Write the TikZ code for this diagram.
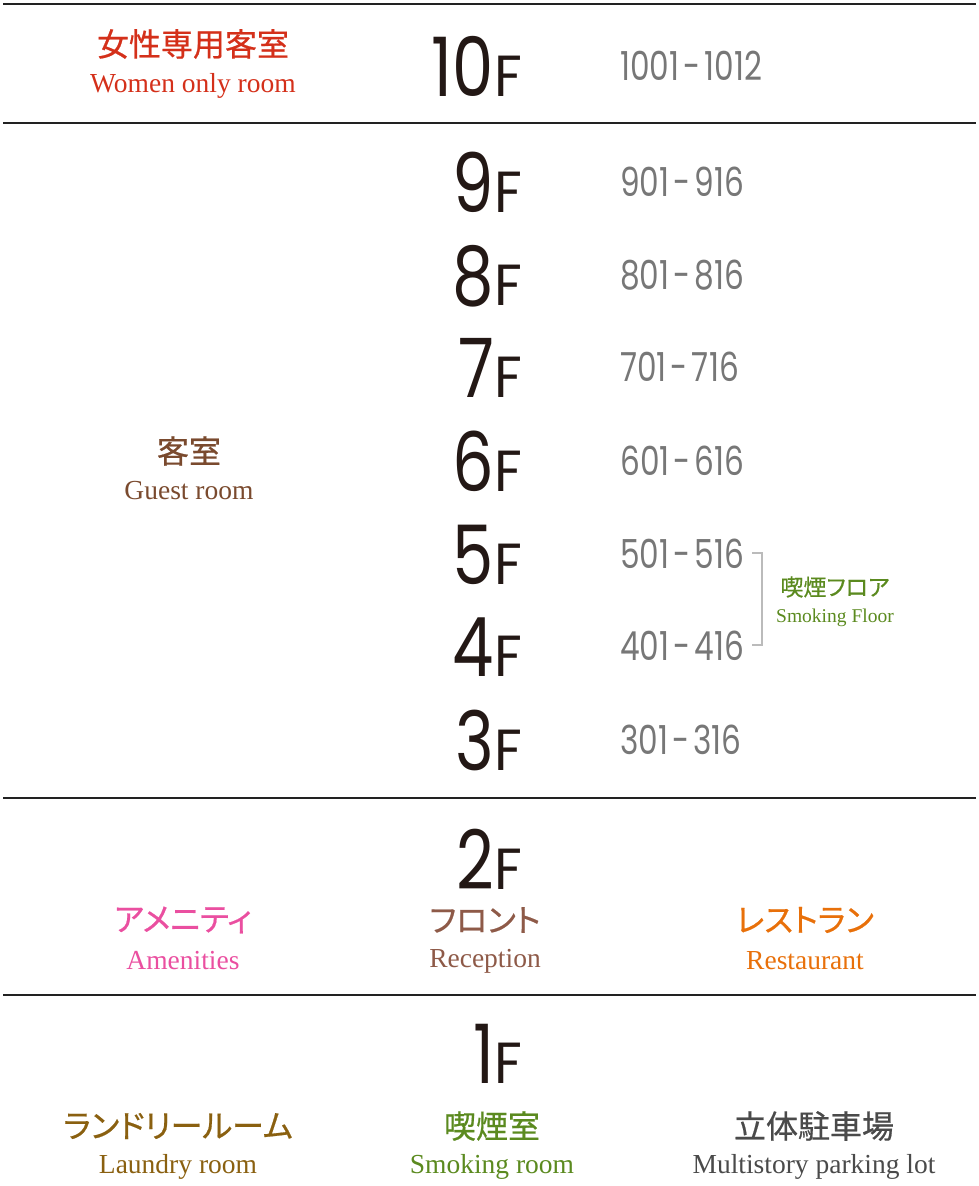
\documentclass[tikz,border=0pt]{standalone}
\usepackage{fontspec}
\setmainfont{Liberation Serif}
\newfontfamily\jpfont[RawFeature=+palt,FakeBold=0.6]{Noto Sans CJK JP}
\newfontfamily\floorfont[FakeStretch=0.8]{Poppins}
\newfontfamily\ffont[FakeStretch=0.95]{Poppins}
\newfontfamily\roomfont[FakeStretch=0.78]{Poppins}

\definecolor{womenred}{HTML}{D4301A}
\definecolor{guestbrown}{HTML}{7A4A2E}
\definecolor{amenpink}{HTML}{EA4FA0}
\definecolor{frontbrown}{HTML}{8E5A48}
\definecolor{restorange}{HTML}{E8700A}
\definecolor{laundrybrown}{HTML}{8A6010}
\definecolor{smokegreen}{HTML}{5B8A1F}
\definecolor{parkgray}{HTML}{4A4A4A}
\definecolor{roomgray}{HTML}{777777}
\definecolor{floorblack}{HTML}{231815}
\definecolor{rulegray}{HTML}{222222}
\definecolor{bracketgray}{HTML}{BBBBBB}

\newcommand{\flr}[1]{{\floorfont\fontsize{82}{82}\selectfont #1}{\ffont\fontsize{58}{58}\selectfont F}}

\begin{document}
\begin{tikzpicture}[x=1pt,y=-1pt,
        floor/.style={anchor=base east,inner sep=0pt,text depth=0pt,text=floorblack},
        room/.style={anchor=base west,inner sep=0pt,text=roomgray,
          font=\roomfont\fontsize{40}{40}\selectfont},
        jp/.style={inner sep=0pt,font=\jpfont\fontsize{32}{32}\selectfont},
        en/.style={inner sep=0pt,font=\fontsize{27.5}{27.5}\selectfont},
        rule/.style={draw=rulegray,line width=2pt}]

  \useasboundingbox (0,0) rectangle (978,1186);

  % floor separators
  \coordinate (r0w) at (3,4);    \coordinate (r0e) at (976,4);
  \coordinate (r1w) at (3,123);  \coordinate (r1e) at (976,123);
  \coordinate (r2w) at (3,798);  \coordinate (r2e) at (976,798);
  \coordinate (r3w) at (3,995);  \coordinate (r3e) at (976,995);
  \foreach \r in {0,1,2,3}
    \draw[rule] (r\r w) -- (r\r e);

  % 10F
  \node[floor] (f10) at (522,96) {\flr{10}};
  \node[room] (rm10) at (620,80) {1001\hspace{0.1em}-\hspace{0.1em}1012};
  \node[jp,text=womenred] (women) at (193,44) {女性専用客室};
  \node[en,text=womenred] (womenen) at (193,86) {Women only room};

  % guest floors
  \foreach \f/\b in {9/212,8/305,7/397,6/491,5/584,4/676,3/770} {
    \node[floor] (f\f) at (522,\b) {\flr{\f}};
    \node[room] (rm\f) at (620,\b-16) {\f01\hspace{0.1em}-\hspace{0.1em}\f16};
  }
  \node[jp,text=guestbrown] (guest) at (189,451) {客室};
  \node[en,text=guestbrown] (guesten) at (189,491) {Guest room};

  % smoking floor bracket
  \coordinate (b5) at (752,553);
  \coordinate (b4) at (752,645);
  \draw[bracketgray,line width=1.5pt] (b5) -- ++(10,0) |- (b4);
  \node[jp,text=smokegreen,font=\jpfont\fontsize{23}{23}\selectfont] (smk) at (835,587) {喫煙フロア};
  \node[en,text=smokegreen,font=\fontsize{19.5}{19.5}\selectfont] (smken) at (835,618) {Smoking Floor};

  % 2F
  \node[floor] (f2) at (522,889) {\flr{2}};
  \node[jp,text=amenpink] (amen) at (183,920) {アメニティ};
  \node[en,text=amenpink] (amenen) at (183,961) {Amenities};
  \node[jp,text=frontbrown] (front) at (485,920) {フロント};
  \node[en,text=frontbrown] (fronten) at (485,961) {Reception};
  \node[jp,text=restorange] (rest) at (805,920) {レストラン};
  \node[en,text=restorange] (resten) at (805,961) {Restaurant};

  % 1F
  \node[floor] (f1) at (522,1083) {\flr{1}};
  \node[jp,text=laundrybrown] (laundry) at (178,1126) {ランドリールーム};
  \node[en,text=laundrybrown] (laundryen) at (178,1167) {Laundry room};
  \node[jp,text=smokegreen] (smroom) at (492,1126) {喫煙室};
  \node[en,text=smokegreen] (smroomen) at (492,1167) {Smoking room};
  \node[jp,text=parkgray] (park) at (814,1126) {立体駐車場};
  \node[en,text=parkgray] (parken) at (814,1167) {Multistory parking lot};

\end{tikzpicture}
\end{document}
